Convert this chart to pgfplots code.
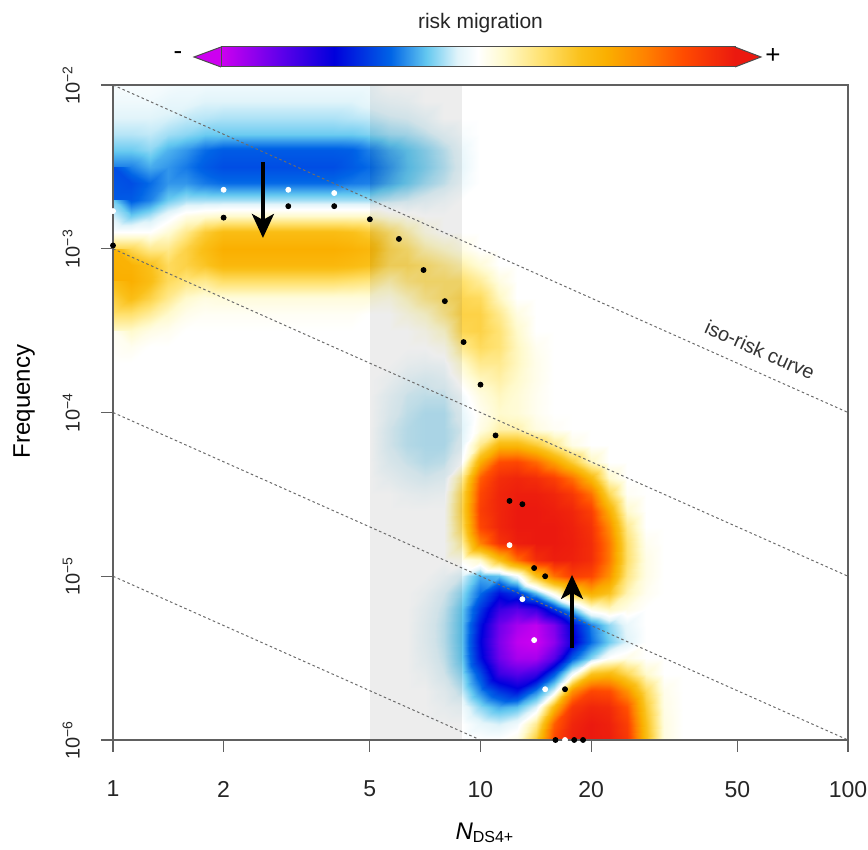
\documentclass[border=0pt]{standalone}
\usepackage{fontspec}
\setmainfont{Liberation Sans}
\usepackage{pgfplots}
\pgfplotsset{compat=1.18}
\usepackage{pgfplotstable}
\usetikzlibrary{arrows.meta}
\definecolor{cbL}{RGB}{205,0,240}
\definecolor{cbR}{RGB}{235,25,15}
\pgfplotsset{colormap={risk}{
rgb255(0cm)=(205,0,240);
rgb255(2.2cm)=(100,0,235);
rgb255(4.4cm)=(0,0,220);
rgb255(6.6cm)=(0,100,230);
rgb255(8cm)=(100,200,240);
rgb255(9.2cm)=(225,244,250);
rgb255(10cm)=(255,255,255);
rgb255(11cm)=(255,250,205);
rgb255(12.5cm)=(255,225,110);
rgb255(14cm)=(250,192,25);
rgb255(15cm)=(250,175,0);
rgb255(16.5cm)=(255,130,0);
rgb255(18cm)=(255,75,0);
rgb255(20cm)=(235,25,15)
}}
% risk-migration field: 41 rows (log10 f = -2 ... -6, step 0.1) x 32 columns (log10 N = 0 ... 1.55, step 0.05)
\pgfplotstableread[row sep=\\]{
v\\
-0.02\\-0.02\\-0.02\\-0.03\\-0.04\\-0.04\\-0.04\\-0.04\\-0.04\\-0.04\\-0.04\\-0.04\\-0.04\\-0.04\\-0.04\\0\\0\\0\\0\\0\\0\\0\\0\\0\\0\\0\\0\\0\\0\\0\\0\\0\\
-0.04\\-0.04\\-0.04\\-0.06\\-0.06\\-0.08\\-0.08\\-0.08\\-0.08\\-0.08\\-0.08\\-0.08\\-0.08\\-0.08\\-0.06\\-0.04\\-0.03\\0\\0\\0\\0\\0\\0\\0\\0\\0\\0\\0\\0\\0\\0\\0\\
-0.08\\-0.08\\-0.08\\-0.09\\-0.11\\-0.12\\-0.13\\-0.13\\-0.13\\-0.13\\-0.13\\-0.13\\-0.13\\-0.12\\-0.11\\-0.09\\-0.08\\-0.05\\0\\0\\0\\0\\0\\0\\0\\0\\0\\0\\0\\0\\0\\0\\
-0.12\\-0.12\\-0.11\\-0.14\\-0.16\\-0.19\\-0.19\\-0.19\\-0.19\\-0.19\\-0.19\\-0.19\\-0.19\\-0.19\\-0.17\\-0.14\\-0.13\\-0.1\\-0.06\\-0.02\\0\\0\\0\\0\\0\\0\\0\\0\\0\\0\\0\\0\\
-0.19\\-0.19\\-0.16\\-0.23\\-0.27\\-0.33\\-0.36\\-0.36\\-0.36\\-0.36\\-0.36\\-0.36\\-0.36\\-0.35\\-0.3\\-0.24\\-0.2\\-0.16\\-0.11\\-0.05\\0\\0\\0\\0\\0\\0\\0\\0\\0\\0\\0\\0\\
-0.3\\-0.3\\-0.24\\-0.27\\-0.31\\-0.36\\-0.39\\-0.39\\-0.39\\-0.39\\-0.39\\-0.39\\-0.39\\-0.36\\-0.33\\-0.27\\-0.21\\-0.17\\-0.12\\-0.06\\0\\0\\0\\0\\0\\0\\0\\0\\0\\0\\0\\0\\
-0.39\\-0.39\\-0.33\\-0.27\\-0.27\\-0.31\\-0.33\\-0.33\\-0.33\\-0.33\\-0.33\\-0.33\\-0.33\\-0.31\\-0.3\\-0.24\\-0.19\\-0.14\\-0.1\\-0.04\\0\\0\\0\\0\\0\\0\\0\\0\\0\\0\\0\\0\\
-0.36\\-0.36\\-0.3\\-0.19\\-0.14\\-0.14\\-0.14\\-0.14\\-0.14\\-0.14\\-0.14\\-0.14\\-0.14\\-0.14\\-0.14\\-0.11\\-0.09\\-0.06\\-0.03\\0\\0\\0\\0\\0\\0\\0\\0\\0\\0\\0\\0\\0\\
-0.19\\-0.19\\-0.13\\-0.04\\0.05\\0.08\\0.1\\0.1\\0.1\\0.1\\0.1\\0.1\\0.1\\0.1\\0.1\\0.05\\0.02\\0\\0\\0\\0\\0\\0\\0\\0\\0\\0\\0\\0\\0\\0\\0\\
0\\0\\0\\0.08\\0.2\\0.35\\0.42\\0.42\\0.42\\0.42\\0.42\\0.42\\0.42\\0.4\\0.35\\0.25\\0.15\\0.05\\0\\0\\0\\0\\0\\0\\0\\0\\0\\0\\0\\0\\0\\0\\
0.3\\0.3\\0.2\\0.2\\0.32\\0.42\\0.5\\0.5\\0.5\\0.5\\0.5\\0.5\\0.5\\0.48\\0.45\\0.3\\0.25\\0.15\\0.1\\0.05\\0\\0\\0\\0\\0\\0\\0\\0\\0\\0\\0\\0\\
0.48\\0.48\\0.4\\0.28\\0.32\\0.38\\0.45\\0.45\\0.45\\0.45\\0.45\\0.45\\0.45\\0.43\\0.4\\0.28\\0.28\\0.25\\0.2\\0.15\\0.08\\0\\0\\0\\0\\0\\0\\0\\0\\0\\0\\0\\
0.5\\0.5\\0.42\\0.28\\0.22\\0.2\\0.26\\0.26\\0.26\\0.26\\0.26\\0.26\\0.26\\0.24\\0.22\\0.15\\0.22\\0.25\\0.25\\0.25\\0.18\\0.06\\0\\0\\0\\0\\0\\0\\0\\0\\0\\0\\
0.42\\0.42\\0.32\\0.2\\0.1\\0.06\\0.07\\0.07\\0.07\\0.07\\0.07\\0.07\\0.07\\0.07\\0.07\\0.05\\0.12\\0.2\\0.25\\0.3\\0.28\\0.12\\0\\0\\0\\0\\0\\0\\0\\0\\0\\0\\
0.25\\0.25\\0.18\\0.1\\0.04\\0.02\\0.02\\0.02\\0.02\\0.02\\0.02\\0.02\\0.02\\0.02\\0\\0\\0.05\\0.1\\0.2\\0.32\\0.32\\0.2\\0.06\\0\\0\\0\\0\\0\\0\\0\\0\\0\\
0.1\\0.1\\0.05\\0.03\\0\\0\\0\\0\\0\\0\\0\\0\\0\\0\\0\\0\\0\\0.03\\0.1\\0.3\\0.32\\0.24\\0.1\\0\\0\\0\\0\\0\\0\\0\\0\\0\\
0.03\\0.03\\0\\0\\0\\0\\0\\0\\0\\0\\0\\0\\0\\0\\0\\0\\0\\0\\0.03\\0.2\\0.28\\0.24\\0.12\\0.03\\0\\0\\0\\0\\0\\0\\0\\0\\
0\\0\\0\\0\\0\\0\\0\\0\\0\\0\\0\\0\\0\\0\\0\\0\\-0.02\\-0.03\\-0.02\\0.1\\0.2\\0.2\\0.12\\0.04\\0\\0\\0\\0\\0\\0\\0\\0\\
0\\0\\0\\0\\0\\0\\0\\0\\0\\0\\0\\0\\0\\0\\0\\-0.02\\-0.06\\-0.08\\-0.06\\0.03\\0.12\\0.16\\0.1\\0.04\\0\\0\\0\\0\\0\\0\\0\\0\\
0\\0\\0\\0\\0\\0\\0\\0\\0\\0\\0\\0\\0\\0\\0\\-0.05\\-0.09\\-0.1\\-0.1\\-0.03\\0.06\\0.12\\0.08\\0.03\\0\\0\\0\\0\\0\\0\\0\\0\\
0\\0\\0\\0\\0\\0\\0\\0\\0\\0\\0\\0\\0\\0\\0\\-0.06\\-0.1\\-0.12\\-0.12\\-0.06\\0.03\\0.1\\0.08\\0.03\\0\\0\\0\\0\\0\\0\\0\\0\\
0\\0\\0\\0\\0\\0\\0\\0\\0\\0\\0\\0\\0\\0\\0\\-0.08\\-0.11\\-0.12\\-0.12\\-0.08\\0.05\\0.15\\0.15\\0.06\\0.02\\0\\0\\0\\0\\0\\0\\0\\
0\\0\\0\\0\\0\\0\\0\\0\\0\\0\\0\\0\\0\\0\\0\\-0.08\\-0.11\\-0.12\\-0.12\\-0.06\\0.2\\0.45\\0.45\\0.35\\0.2\\0.05\\0\\0\\0\\0\\0\\0\\
0\\0\\0\\0\\0\\0\\0\\0\\0\\0\\0\\0\\0\\0\\0\\-0.06\\-0.09\\-0.11\\-0.1\\0\\0.5\\0.8\\0.82\\0.72\\0.55\\0.35\\0.12\\0\\0\\0\\0\\0\\
0\\0\\0\\0\\0\\0\\0\\0\\0\\0\\0\\0\\0\\0\\0\\-0.03\\-0.06\\-0.08\\-0.06\\0.2\\0.75\\0.92\\0.95\\0.92\\0.85\\0.7\\0.45\\0.1\\0\\0\\0\\0\\
0\\0\\0\\0\\0\\0\\0\\0\\0\\0\\0\\0\\0\\0\\0\\0\\-0.02\\-0.03\\-0.02\\0.3\\0.82\\0.95\\0.98\\0.98\\0.95\\0.88\\0.7\\0.3\\0.02\\0\\0\\0\\
0\\0\\0\\0\\0\\0\\0\\0\\0\\0\\0\\0\\0\\0\\0\\0\\0\\0\\0\\0.32\\0.85\\0.95\\1\\1\\0.98\\0.95\\0.85\\0.5\\0.1\\0\\0\\0\\
0\\0\\0\\0\\0\\0\\0\\0\\0\\0\\0\\0\\0\\0\\0\\0\\0\\0\\0\\0.28\\0.82\\0.95\\1\\1\\1\\0.97\\0.9\\0.62\\0.2\\0\\0\\0\\
0\\0\\0\\0\\0\\0\\0\\0\\0\\0\\0\\0\\0\\0\\0\\0\\0\\0\\0\\0.18\\0.65\\0.9\\0.98\\1\\1\\0.98\\0.92\\0.68\\0.25\\0.03\\0\\0\\
0\\0\\0\\0\\0\\0\\0\\0\\0\\0\\0\\0\\0\\0\\0\\0\\0\\0\\0\\0.03\\0.1\\0.4\\0.7\\0.92\\0.98\\0.97\\0.92\\0.68\\0.26\\0.05\\0\\0\\
0\\0\\0\\0\\0\\0\\0\\0\\0\\0\\0\\0\\0\\0\\0\\0\\0\\0\\-0.03\\-0.09\\-0.24\\-0.21\\-0.04\\0.4\\0.7\\0.85\\0.82\\0.6\\0.22\\0.05\\0\\0\\
0\\0\\0\\0\\0\\0\\0\\0\\0\\0\\0\\0\\0\\0\\0\\0\\0\\-0.02\\-0.08\\-0.16\\-0.33\\-0.52\\-0.44\\-0.21\\0.05\\0.35\\0.5\\0.4\\0.14\\0.03\\0\\0\\
0\\0\\0\\0\\0\\0\\0\\0\\0\\0\\0\\0\\0\\0\\0\\0\\0\\-0.04\\-0.1\\-0.2\\-0.44\\-0.68\\-0.75\\-0.68\\-0.44\\-0.21\\0.05\\0.12\\0.05\\0\\0\\0\\
0\\0\\0\\0\\0\\0\\0\\0\\0\\0\\0\\0\\0\\0\\0\\0\\0\\-0.05\\-0.11\\-0.21\\-0.52\\-0.8\\-0.92\\-0.97\\-0.83\\-0.55\\-0.3\\-0.16\\-0.06\\0\\0\\0\\
0\\0\\0\\0\\0\\0\\0\\0\\0\\0\\0\\0\\0\\0\\0\\0\\0\\-0.05\\-0.11\\-0.21\\-0.55\\-0.83\\-0.97\\-1\\-0.87\\-0.6\\-0.33\\-0.19\\-0.08\\0\\0\\0\\
0\\0\\0\\0\\0\\0\\0\\0\\0\\0\\0\\0\\0\\0\\0\\0\\0\\-0.04\\-0.1\\-0.2\\-0.52\\-0.8\\-0.92\\-0.92\\-0.75\\-0.36\\-0.17\\0\\0.05\\0\\0\\0\\
0\\0\\0\\0\\0\\0\\0\\0\\0\\0\\0\\0\\0\\0\\0\\0\\0\\-0.02\\-0.08\\-0.16\\-0.39\\-0.68\\-0.75\\-0.68\\-0.36\\-0.04\\0.4\\0.45\\0.3\\0.1\\0\\0\\
0\\0\\0\\0\\0\\0\\0\\0\\0\\0\\0\\0\\0\\0\\0\\0\\0\\0\\-0.04\\-0.11\\-0.29\\-0.44\\-0.52\\-0.3\\-0.08\\0.6\\0.82\\0.8\\0.6\\0.28\\0.04\\0\\
0\\0\\0\\0\\0\\0\\0\\0\\0\\0\\0\\0\\0\\0\\0\\0\\0\\0\\-0.02\\-0.04\\-0.16\\-0.24\\-0.21\\-0.08\\0.45\\0.88\\0.95\\0.93\\0.78\\0.35\\0.05\\0\\
0\\0\\0\\0\\0\\0\\0\\0\\0\\0\\0\\0\\0\\0\\0\\0\\0\\0\\0\\0\\-0.06\\-0.09\\-0.04\\0.2\\0.75\\0.95\\1\\0.97\\0.85\\0.4\\0.06\\0\\
0\\0\\0\\0\\0\\0\\0\\0\\0\\0\\0\\0\\0\\0\\0\\0\\0\\0\\0\\0\\0\\0\\0.05\\0.35\\0.82\\0.97\\1\\0.98\\0.88\\0.42\\0.06\\0\\
}\heat

\begin{document}
\begin{tikzpicture}
\begin{axis}[
  name=ax,
  scale only axis,
  width=367.5pt, height=327.5pt,
  xmin=0, xmax=2, ymin=-6, ymax=-2,
  clip=false,
  axis on top,
  colormap name=risk,
  point meta min=-1, point meta max=1,
  xtick={0,0.30103,0.69897,1,1.30103,1.69897,2},
  xticklabels={1,2,5,10,20,50,100},
  ytick={-6,-5,-4,-3,-2},
  yticklabels={10\textsuperscript{−6},10\textsuperscript{−5},10\textsuperscript{−4},10\textsuperscript{−3},10\textsuperscript{−2}},
  tick align=outside,
  major tick length=6pt,
  xtick pos=left, ytick pos=left,
  axis line style={draw=gray!75!black, line width=0.6pt},
  every tick/.style={draw=gray!75!black, line width=0.6pt},
  xticklabel style={font=\fontsize{11.5}{13}\selectfont, text=black!85},
  yticklabel style={font=\fontsize{10}{12}\selectfont, text=black!85, rotate=90, anchor=south},
  xticklabel shift=11pt, yticklabel shift=7pt,
  xlabel={\textit{N}\textsubscript{DS4+}},
  ylabel={Frequency},
  every axis x label/.style={at={(axis description cs:0.506,-0.142)}, anchor=center, font=\fontsize{12}{14}\selectfont},
  every axis y label/.style={at={(axis description cs:-0.121,0.517)}, anchor=center, rotate=90, font=\fontsize{12}{14}\selectfont},
  colorbar horizontal,
  colorbar shift/.style={xshift=-1.25pt, yshift=9pt},
  colorbar style={at={(parent axis.north)}, anchor=south,
    width=257pt, height=10pt, scale only axis, xtick=\empty, ytick=\empty,
    axis line style={draw=gray!60!black, line width=0.5pt}, xlabel={}, ylabel={}},
]
\addplot[surf, shader=interp, mesh/cols=32, point meta=explicit]
  table[x=v, y=v, x expr={0.05*mod(\coordindex,32)}, y expr={-2-0.1*floor(\coordindex/32)}, meta=v] {\heat};
% shaded band
\addplot[draw=none, fill=black, fill opacity=0.07] coordinates {(0.699,-6) (0.95,-6) (0.95,-2) (0.699,-2)} -- cycle;
% iso-risk curves
\addplot[gray!85!black, line width=0.5pt, dash pattern=on 1.3pt off 1.3pt] coordinates {(0,-2) (2,-4)};
\addplot[gray!85!black, line width=0.5pt, dash pattern=on 1.3pt off 1.3pt] coordinates {(0,-3) (2,-5)};
\addplot[gray!85!black, line width=0.5pt, dash pattern=on 1.3pt off 1.3pt] coordinates {(0,-4) (2,-6)};
\addplot[gray!85!black, line width=0.5pt, dash pattern=on 1.3pt off 1.3pt] coordinates {(0,-5) (1,-6)};
\node[rotate=-24, font=\fontsize{10}{12}\selectfont, text=black!80] at (axis cs:1.7605,-3.618) {iso-risk curve};
% points
\addplot[only marks, mark=*, mark size=1.25pt, black] coordinates {
(0,-2.98) (0.301,-2.81) (0.477,-2.74) (0.602,-2.74) (0.699,-2.82) (0.778,-2.94) (0.845,-3.13) (0.903,-3.32) (0.954,-3.57) (1,-3.83) (1.041,-4.14) (1.079,-4.54) (1.114,-4.56) (1.146,-4.95) (1.176,-5.0) (1.230,-5.69) (1.204,-6.0) (1.255,-6.0) (1.279,-6.0)};
\addplot[only marks, mark=*, mark size=1.25pt, white] coordinates {
(0,-2.77) (0.301,-2.64) (0.477,-2.64) (0.602,-2.66) (1.079,-4.81) (1.114,-5.14) (1.146,-5.39) (1.176,-5.69) (1.230,-6.0)};
% arrows
\addplot[black, line width=1.6pt, -{Stealth[length=12pt,width=11pt,inset=3pt]}] coordinates {(0.408,-2.47) (0.408,-2.934)};
\addplot[black, line width=1.6pt, -{Stealth[length=12pt,width=11pt,inset=3pt]}] coordinates {(1.249,-5.438) (1.249,-4.992)};
\end{axis}
% colorbar end caps and labels
\fill[cbL] ([shift={(-129.75pt,19pt)}]ax.north) -- ([shift={(-143.25pt,14pt)}]ax.north) -- ([shift={(-129.75pt,9pt)}]ax.north) -- cycle;
\draw[gray!60!black, line width=0.5pt] ([shift={(-129.75pt,19pt)}]ax.north) -- ([shift={(-143.25pt,14pt)}]ax.north) -- ([shift={(-129.75pt,9pt)}]ax.north);
\fill[cbR] ([shift={(127.25pt,19pt)}]ax.north) -- ([shift={(140.25pt,14pt)}]ax.north) -- ([shift={(127.25pt,9pt)}]ax.north) -- cycle;
\draw[gray!60!black, line width=0.5pt] ([shift={(127.25pt,19pt)}]ax.north) -- ([shift={(140.25pt,14pt)}]ax.north) -- ([shift={(127.25pt,9pt)}]ax.north);
\node[font=\fontsize{10.5}{12}\selectfont, text=black!85] at ([yshift=31pt]ax.north) {risk migration};
\node[font=\fontsize{13}{14}\selectfont] at ([shift={(-151.25pt,14.5pt)}]ax.north) {-};
\node[font=\fontsize{13}{14}\selectfont] at ([shift={(146.25pt,14.5pt)}]ax.north) {+};
\pgfresetboundingbox
\path[use as bounding box] ([shift={(-56.5pt,-55pt)}]ax.south west) rectangle ([shift={(377.5pt,370pt)}]ax.south west);
\end{tikzpicture}
\end{document}
